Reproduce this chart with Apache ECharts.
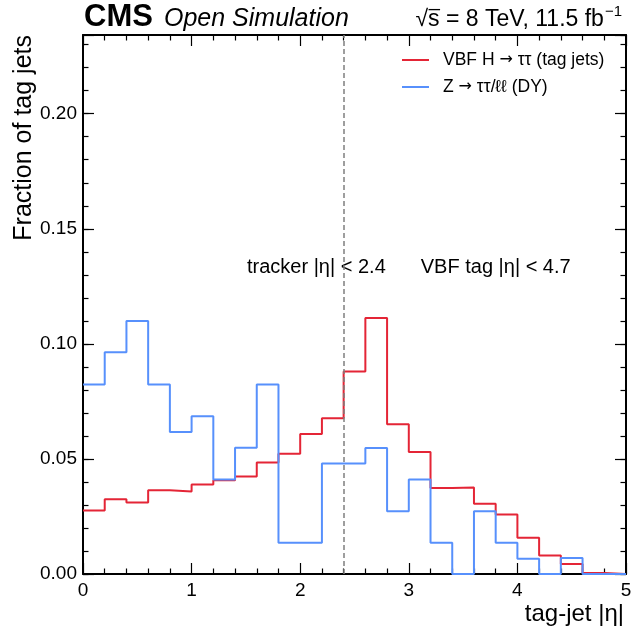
<!DOCTYPE html>
<html><head><meta charset="utf-8">
<script src="https://cdn.jsdelivr.net/npm/echarts@6/dist/echarts.min.js"></script>
<style>html,body{margin:0;padding:0;background:#fff}#c{width:632px;height:635px}</style>
</head><body><div id="c"></div>
<script>
// ---------------- data ----------------
const binEdges = [0.0,0.2,0.4,0.6,0.8,1.0,1.2,1.4,1.6,1.8,2.0,2.2,2.4,2.6,2.8,3.0,3.2,3.4,3.6,3.8,4.0,4.2,4.4,4.6,4.8,5.0];
const vbfValues = [0.0276,0.0325,0.0311,0.0364,0.0359,0.0389,0.0407,0.0424,0.0485,0.0523,0.0608,0.0677,0.0880,0.1112,0.0651,0.0530,0.0374,0.0376,0.0305,0.0259,0.0157,0.0080,0.0043,0.0004,0.0];
const dyValues  = [0.0823,0.0963,0.1099,0.0823,0.0617,0.0685,0.0411,0.0549,0.0823,0.0136,0.0136,0.0480,0.0480,0.0547,0.0273,0.0411,0.0136,0.0,0.0273,0.0136,0.0066,0.0,0.0069,0.0,0.0];
const xTickLabels = ['0','1','2','3','4','5'];
const yTickLabels = ['0.00','0.05','0.10','0.15','0.20'];
const seriesNames = ['VBF H \u2192 \u03c4\u03c4 (tag jets)', 'Z \u2192 \u03c4\u03c4/\u2113\u2113 (DY)'];
const trackerEdge = 2.4;
const annotationTexts = ['tracker |\u03b7| < 2.4', 'VBF tag |\u03b7| < 4.7'];
const annotationX = [1.51, 3.11];
const annotationY = 0.1333;
const xRange = [0, 5];
const yRange = [0, 0.2342];

// ---------------- style ----------------
const F = "'Liberation Sans', Arial, Helvetica, sans-serif";
const RED = '#e42536', BLUE = '#5790fc';
const G = {left: 83, right: 6, top: 35, bottom: 61};

function histData(vals) {
  const pts = vals.map((v, i) => [binEdges[i], v]);
  pts.push([binEdges[binEdges.length - 1], vals[vals.length - 1]]);
  return pts;
}

const tickStyle = {color: '#000', width: 1.2};
function xAxisCfg(pos, labels) {
  return {
    type: 'value', position: pos, min: xRange[0], max: xRange[1], interval: 1,
    axisLine: {show: true, onZero: false, lineStyle: {color: '#000', width: 2}},
    axisTick: {show: true, inside: true, length: 11, lineStyle: tickStyle},
    minorTick: {show: true, splitNumber: 5, length: 5.5, lineStyle: tickStyle},
    splitLine: {show: false}, minorSplitLine: {show: false},
    axisLabel: labels ? {show: true, margin: 7, color: '#000', fontFamily: F, fontSize: 19,
      formatter: v => xTickLabels[Math.round(v)] ?? ''} : {show: false}
  };
}
function yAxisCfg(pos, major, labels) {
  return {
    type: 'value', position: pos, min: yRange[0], max: yRange[1], interval: major ? 0.05 : 0.01,
    axisLine: {show: !major, onZero: false, lineStyle: {color: '#000', width: 2}},
    axisTick: {show: true, inside: true, length: major ? 11 : 5.5, lineStyle: tickStyle},
    splitLine: {show: false},
    axisLabel: labels ? {show: true, margin: 6, color: '#000', fontFamily: F, fontSize: 19,
      showMaxLabel: false,
      formatter: v => {
        const k = v * 20;
        if (Math.abs(k - Math.round(k)) < 1e-6) return yTickLabels[Math.round(k)] ?? '';
        return '';
      }} : {show: false}
  };
}

function legendFmt(n) {
  const parts = n.split('\u2192');
  return '{b|' + parts[0] + '}{r|\u2192}{a|' + parts[1] + '}';
}

const chart = echarts.init(document.getElementById('c'), null, {renderer: 'canvas'});
const option = {
  animation: false,
  backgroundColor: '#fff',
  textStyle: {fontFamily: F},
  grid: Object.assign({containLabel: false, outerBoundsMode: 'none'}, G),
  xAxis: [xAxisCfg('bottom', true), xAxisCfg('top', false)],
  yAxis: [yAxisCfg('left', false, true), yAxisCfg('left', true, false),
          yAxisCfg('right', false, false), yAxisCfg('right', true, false)],
  legend: {
    orient: 'vertical', left: 402, top: 50, padding: 0, itemWidth: 27, itemHeight: 2, itemGap: 7,
    icon: 'rect', selectedMode: false,
    data: seriesNames,
    formatter: legendFmt,
    textStyle: {color: '#000', fontFamily: F, fontSize: 17.5, lineHeight: 20,
      rich: {
        b: {fontFamily: F, fontSize: 17.5, color: '#000', padding: [0, 0, 0, 9]},
        a: {fontFamily: F, fontSize: 17.5, color: '#000'},
        r: {fontFamily: "'DejaVu Sans', sans-serif", fontSize: 16, color: '#000'}
      }}
  },
  series: [
    {
      name: seriesNames[0], type: 'line', step: 'end', data: histData(vbfValues),
      showSymbol: false, symbol: 'none', color: RED, lineStyle: {color: RED, width: 2},
      silent: true,
      markLine: {
        silent: true, symbol: ['none', 'none'], label: {show: false},
        lineStyle: {color: '#7f7f7f', type: [5, 3], width: 1.5},
        data: [{xAxis: trackerEdge}]
      }
    },
    {
      name: seriesNames[1], type: 'line', step: 'end', data: histData(dyValues),
      showSymbol: false, symbol: 'none', color: BLUE, lineStyle: {color: BLUE, width: 2},
      silent: true
    }
  ]
};
chart.setOption(option);

// ---------------- annotations & header ----------------
const ctx = document.createElement('canvas').getContext('2d');
function tw(text, font) { ctx.font = font; return ctx.measureText(text).width; }
const gfx = [];

annotationTexts.forEach((t, i) => {
  const p = chart.convertToPixel({xAxisIndex: 0, yAxisIndex: 0}, [annotationX[i], annotationY]);
  gfx.push({type: 'text', x: p[0], y: p[1], silent: true,
    style: {text: t, font: '20px ' + F, fill: '#000', align: 'left', verticalAlign: 'middle'}});
});

// axis titles
gfx.push({type: 'text', x: 24, y: G.top, rotation: Math.PI / 2, silent: true,
  style: {text: 'Fraction of tag jets', font: '25px ' + F, fill: '#000', align: 'right', verticalAlign: 'middle'}});
gfx.push({type: 'text', x: 624, y: 614, silent: true,
  style: {text: 'tag-jet |\u03b7|', font: '24px ' + F, fill: '#000', align: 'right', verticalAlign: 'middle'}});

// header left
const base = 28;
gfx.push({type: 'text', x: 84, y: base - 0.35 * 31, silent: true,
  style: {text: 'CMS', font: 'bold 31px ' + F, fill: '#000', align: 'left', verticalAlign: 'middle'}});
gfx.push({type: 'text', x: 164, y: base - 0.35 * 25, silent: true,
  style: {text: 'Open Simulation', font: 'italic 25px ' + F, fill: '#000', align: 'left', verticalAlign: 'middle'}});

// header right: sqrt(s) = 8 TeV, 11.5 fb^-1
const hf = 23, sf = 15;
const fMain = hf + 'px ' + F, fSup = sf + 'px ' + F;
const supTxt = '\u22121';
const mainTxt = ' = 8 TeV, 11.5 fb';
let xr = 622;
const wSup = tw(supTxt, fSup);
const xSup = xr - wSup;
const wMain = tw(mainTxt, fMain);
const xMain = xSup - 1 - wMain;
const wS = tw('s', fMain);
const xS = xMain - wS;
const wR = tw('\u221a', fMain);
const xR = xS - wR;
gfx.push({type: 'text', x: xSup, y: base - 0.62 * hf - 0.35 * sf + 3, silent: true,
  style: {text: supTxt, font: fSup, fill: '#000', align: 'left', verticalAlign: 'middle'}});
gfx.push({type: 'text', x: xMain, y: base - 0.35 * hf, silent: true,
  style: {text: mainTxt, font: fMain, fill: '#000', align: 'left', verticalAlign: 'middle'}});
gfx.push({type: 'text', x: xS, y: base - 0.35 * hf, silent: true,
  style: {text: 's', font: fMain, fill: '#000', align: 'left', verticalAlign: 'middle'}});
gfx.push({type: 'text', x: xR, y: base - 0.35 * hf, silent: true,
  style: {text: '\u221a', font: fMain, fill: '#000', align: 'left', verticalAlign: 'middle'}});
gfx.push({type: 'line', silent: true,
  shape: {x1: xS + 0.5, y1: base - 0.8 * hf, x2: xS + wS + 0.5, y2: base - 0.8 * hf},
  style: {stroke: '#000', lineWidth: 1.3}});

chart.setOption({graphic: gfx});
</script>
</body></html>
